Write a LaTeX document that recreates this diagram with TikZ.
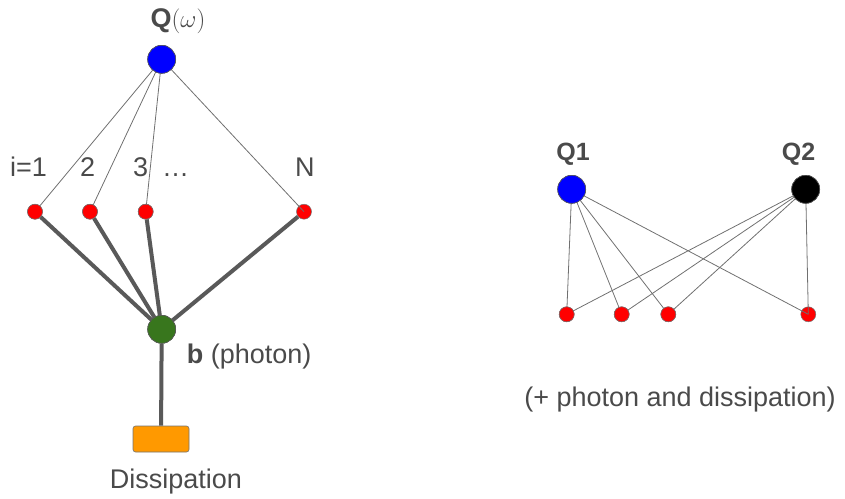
\documentclass[tikz,border=0pt]{standalone}
\usepackage{fontspec}
\setmainfont{Liberation Sans}
\definecolor{txt}{HTML}{4A4A4A}
\definecolor{thinc}{HTML}{707070}
\definecolor{thickc}{HTML}{595959}
\definecolor{gdot}{HTML}{38761D}
\definecolor{odot}{HTML}{FF9900}
\begin{document}
\begin{tikzpicture}[x=1pt,y=-1pt,
  bigdot/.style={circle,draw=black!65,line width=0.6pt,inner sep=0pt,minimum size=28pt},
  reddot/.style={circle,draw=black!55,line width=0.5pt,fill=red,inner sep=0pt,minimum size=15pt},
  lbl/.style={text=txt,font=\fontsize{27}{32}\selectfont,inner sep=0pt},
  blbl/.style={text=txt,font=\fontsize{25}{30}\selectfont\bfseries,inner sep=0pt},
  thin/.style={draw=thinc,line width=0.8pt},
  thick/.style={draw=thickc,line width=4pt}]
\useasboundingbox (0,0) rectangle (845,498);
% left graph
\node[bigdot,fill=blue] (Q) at (161.7,59.3) {};
\node[reddot] (r1) at (35,211.7) {};
\node[reddot] (r2) at (90,211.7) {};
\node[reddot] (r3) at (145.7,211.7) {};
\node[reddot] (rN) at (304,211.7) {};
\node[bigdot,fill=gdot] (b) at (161.7,329.3) {};
\node[draw=black!55,line width=0.6pt,fill=odot,rounded corners=2.5pt,minimum width=56pt,minimum height=26pt,inner sep=0pt] (d) at (161,439) {};
\draw[thin] (Q.center) -- (r1.center);
\draw[thin] (Q.center) -- (r2.center);
\draw[thin] (Q.center) -- (r3.center);
\draw[thin] (Q.center) -- (rN.center);
\draw[thick] (r1) -- (b.center);
\draw[thick] (r2) -- (b.center);
\draw[thick] (r3) -- (b.center);
\draw[thick] (rN) -- (b.center);
\draw[thick] (b) -- (d);
\node[bigdot,fill=gdot] at (b) {};
\node[bigdot,fill=blue] at (Q) {};
\foreach \n in {r1,r2,r3} {\node[reddot] at (\n) {};}
\node[lbl,anchor=base] (lq) at (178,27) {\textbf{Q}$(\omega)$};
\node[lbl,anchor=base west] (l1) at (10,176) {i=1};
\node[lbl,anchor=base west] (l2) at (80,176) {2};
\node[lbl,anchor=base west] (l3) at (133,176) {3\hspace{14pt}…};
\node[lbl,anchor=base west] (lN) at (295,176) {N};
\node[lbl,anchor=base west] (lb) at (186.7,363) {\textbf{b} (photon)};
\node[lbl,anchor=base] (ld) at (176,488.3) {Dissipation};
% right graph
\node[bigdot,fill=blue] (Q1) at (571.7,189.3) {};
\node[bigdot,fill=black] (Q2) at (805.7,189.3) {};
\node[reddot] (s1) at (566.7,314.3) {};
\node[reddot] (s2) at (621.7,314.3) {};
\node[reddot] (s3) at (668.3,314.3) {};
\node[reddot] (s4) at (808.3,314.3) {};
\foreach \a in {Q1,Q2} {\foreach \s in {s1,s2,s3,s4} {\draw[thin] (\a.center) -- (\s.center);}}
\node[bigdot,fill=blue] at (Q1) {};
\node[bigdot,fill=black] at (Q2) {};
\foreach \s in {s1,s2,s3} {\node[reddot] at (\s) {};}
\node[blbl,anchor=base] (lq1) at (573,160) {Q1};
\node[blbl,anchor=base] (lq2) at (798.5,160) {Q2};
\node[lbl,anchor=base] (lp) at (680,406) {(+ photon and dissipation)};
\end{tikzpicture}
\end{document}
